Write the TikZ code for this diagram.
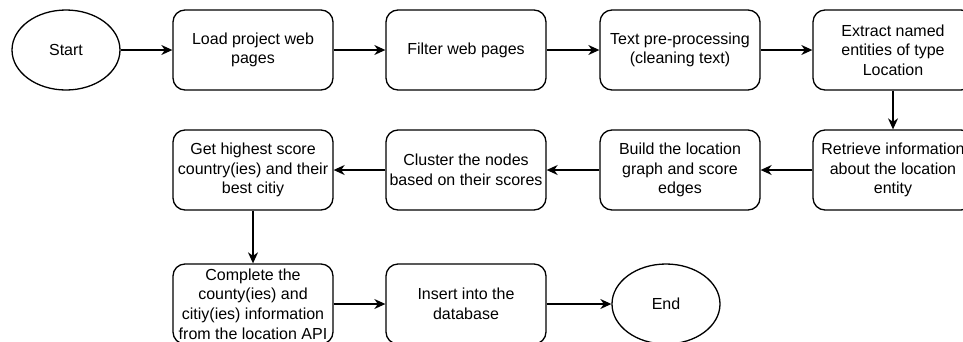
\documentclass[tikz,border=0pt]{standalone}
\usepackage{fontspec}
\setmainfont{Liberation Sans}
\usetikzlibrary{shapes.geometric,arrows.meta}

\tikzset{
  stepbox/.style={draw=black, line width=1.3bp, rounded corners=12bp,
    minimum width=160bp, minimum height=80bp, inner sep=0pt,
    align=center, font=\fontsize{16bp}{19.6bp}\selectfont},
  terminal/.style={draw=black, line width=1.3bp, ellipse,
    minimum width=108bp, minimum height=80bp, inner sep=0pt,
    align=center, font=\fontsize{16bp}{19.6bp}\selectfont},
  flow/.style={draw=black, line width=1.3bp,
    -{Stealth[length=11bp, width=10bp, inset=3.5bp]}}
}

\begin{document}
\begin{tikzpicture}[x=1bp, y=-1bp]
  \useasboundingbox (0,0) rectangle (963,341);
  \clip (0,0) rectangle (963,341);

  % first row
  \node[terminal] (start) at (66,50) {Start};
  \node[stepbox] (load) at (253,50) {Load project web\\pages};
  \node[stepbox] (filter) at (466,50) {Filter web pages};
  \node[stepbox] (prep) at (680,50) {Text pre-processing\\(cleaning text)};
  \node[stepbox] (ner) at (893,50) {Extract named\\entities of type\\Location};

  % second row, running right to left
  \node[stepbox] (retrieve) at (893,170) {Retrieve information\\about the location\\entity};
  \node[stepbox] (graph) at (680,170) {Build the location\\graph and score\\edges};
  \node[stepbox] (cluster) at (466,170) {Cluster the nodes\\based on their scores};
  \node[stepbox] (best) at (253,170) {Get highest score\\country(ies) and their\\best citiy};

  % third row
  \node[stepbox] (complete) at (253,304) {Complete the\\county(ies) and\\citiy(ies) information\\from the location API};
  \node[stepbox] (insert) at (466,304) {Insert into the\\database};
  \node[terminal] (end) at (666,304) {End};

  % connectors
  \draw[flow] (start) -- (load);
  \draw[flow] (load) -- (filter);
  \draw[flow] (filter) -- (prep);
  \draw[flow] (prep) -- (ner);
  \draw[flow] (ner) -- (retrieve);
  \draw[flow] (retrieve) -- (graph);
  \draw[flow] (graph) -- (cluster);
  \draw[flow] (cluster) -- (best);
  \draw[flow] (best) -- (complete);
  \draw[flow] (complete) -- (insert);
  \draw[flow] (insert) -- (end);
\end{tikzpicture}
\end{document}
